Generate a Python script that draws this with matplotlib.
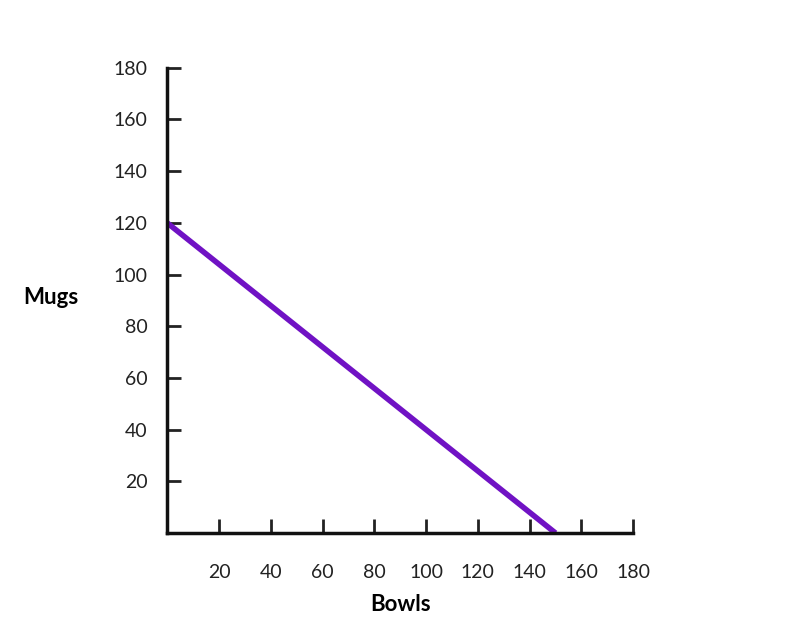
import matplotlib.pyplot as plt

# production possibilities: bowls vs mugs
bowls = [0, 150]
mugs = [120, 0]
ticks = [20, 40, 60, 80, 100, 120, 140, 160, 180]

plt.rcParams['font.family'] = 'Lato'
fig = plt.figure(figsize=(8, 6.22), dpi=100)
ax = fig.add_axes([0.209, 0.143, 0.5825, 0.748])

ax.plot(bowls, mugs, color='#7012c4', linewidth=4, solid_capstyle='butt')

ax.set_xlim(0, 180)
ax.set_ylim(0, 180)
ax.set_xticks(ticks)
ax.set_yticks(ticks)
ax.tick_params(direction='in', length=10, width=2, labelsize=14, colors='#222222')
ax.tick_params(axis='x', pad=22)
ax.tick_params(axis='y', pad=14)
for s in ['top', 'right']:
    ax.spines[s].set_visible(False)
for s in ['left', 'bottom']:
    ax.spines[s].set_linewidth(2.5)
    ax.spines[s].set_color('#111111')

ax.set_xlabel('Bowls', fontsize=16, fontweight='bold', labelpad=10)
ax.set_ylabel('Mugs', fontsize=16, fontweight='bold', rotation=0, ha='center', va='center')
ax.yaxis.set_label_coords(-0.25, 0.507)

fig.savefig('out.png')
